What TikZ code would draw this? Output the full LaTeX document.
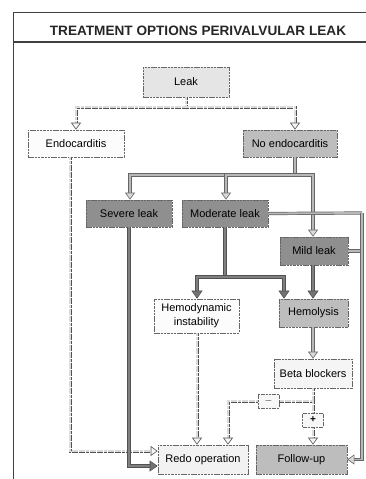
\documentclass[tikz,border=0pt]{standalone}
\usepackage{fontspec}
\setmainfont{Liberation Sans}
\usetikzlibrary{arrows.meta}
\definecolor{lgrey}{gray}{0.90}
\definecolor{mgrey}{gray}{0.74}
\definecolor{dgrey}{gray}{0.56}
\definecolor{edge}{gray}{0.40}
\definecolor{ltin}{gray}{0.86}
\begin{document}
\begin{tikzpicture}[x=1pt,y=-1pt,
  box/.style={draw=edge, line width=0.7pt, dash pattern=on 2.5pt off 0.8pt,
    minimum height=27pt, inner sep=1pt, font=\fontsize{11}{14}\selectfont, align=center},
  sbox/.style={draw=edge, line width=0.6pt, dash pattern=on 2pt off 0.7pt, fill=black!3,
    minimum width=21pt, minimum height=14pt, inner sep=0pt, font=\fontsize{10}{12}\selectfont\bfseries},
  ltplain/.style={draw=black!68, line width=0.75pt, double=ltin, double distance=1.5pt,
    dash pattern=on 3pt off 0.6pt},
  ltline/.style={ltplain,
      -{Triangle[fill=black!4, length=7pt, width=10pt, line width=0.6pt, sep=0pt]}},
  mdline/.style={draw=black!60, line width=0.7pt, double=black!28, double distance=1.8pt,
    -{Triangle[fill=black!15, length=7pt, width=10pt, line width=0.6pt]}},
  mdplain/.style={draw=black!60, line width=0.7pt, double=black!28, double distance=1.8pt},
  dkline/.style={draw=black!68, line width=0.8pt, double=black!50, double distance=2.2pt,
    -{Triangle[fill=black!55, color=black!68, length=8pt, width=11pt, line width=0.6pt]}},
  dkplain/.style={draw=black!68, line width=0.8pt, double=black!50, double distance=2.2pt},
  frame/.style={draw=black!75, line width=0.8pt}
]
\fill[white] (0,0) rectangle (366,479);
\useasboundingbox (0,0) rectangle (366,479);
% frame
\draw[frame] (13,12) -- (366,12);
\draw[frame, line width=1.4pt] (13,42) -- (366,42);
\draw[frame] (13,12) -- (13,479);
\node[font=\fontsize{13.6}{15}\selectfont\bfseries, text=black!85] (title) at (198,31) {TREATMENT OPTIONS PERIVALVULAR LEAK};

% nodes
\node[box, fill=lgrey, minimum width=86pt, minimum height=30pt] (leak) at (186,82) {Leak};
\node[box, fill=black!1, minimum width=96pt] (endo) at (76,143.5) {Endocarditis};
\node[box, fill=mgrey, minimum width=94pt] (noendo) at (290,143.5) {No endocarditis};
\node[box, fill=dgrey, minimum width=86pt] (severe) at (129,213.5) {Severe leak};
\node[box, fill=dgrey, minimum width=86pt] (moderate) at (225,213.5) {Moderate leak};
\node[box, fill=dgrey, minimum width=68pt, minimum height=28pt] (mild) at (314,251) {Mild leak};
\node[box, fill=black!1, minimum width=85pt, minimum height=34pt] (hemo) at (196.5,316) {Hemodynamic\\instability};
\node[box, fill=mgrey, minimum width=69pt, minimum height=28pt] (hemol) at (313.5,313) {Hemolysis};
\node[box, fill=black!4, minimum width=78pt, minimum height=29pt] (beta) at (313,373.5) {Beta blockers};
\node[box, fill=black!5, minimum width=90pt, minimum height=29pt] (redo) at (203,459.5) {Redo operation};
\node[box, fill=mgrey, minimum width=91pt, minimum height=29pt] (follow) at (301.5,459.5) {Follow-up};

% junction coordinates
\coordinate (j1) at (186,107);
\coordinate (j2) at (295,175);
\coordinate (j3) at (225,277);
\coordinate (j4) at (362,213);
\coordinate (j5) at (313,401);
\coordinate (mm) at (268.5,401);
\coordinate (pp) at (313,420);

% Leak -> Endocarditis / No endocarditis
\draw[ltline] (leak.south) -- (j1) -| (endo.north);
\draw[ltline] (j1) -| ([xshift=5pt]noendo.north);

% Endocarditis -> Redo
\draw[ltline] ([xshift=-6pt]endo.south) |- ([yshift=8.5pt]redo.west);

% No endocarditis -> leaks
\draw[mdplain] ([xshift=5pt]noendo.south) -- (j2);
\draw[mdline] (j2) -| ([xshift=1pt]severe.north);
\draw[mdline] (j2) -| ([xshift=1pt]moderate.north);
\draw[mdline] (j2) -| ([xshift=-1pt]mild.north);

% Severe -> Redo
\draw[dkline] (severe.south) |- ([yshift=-6.5pt]redo.west);

% Moderate -> Hemodynamic / Hemolysis
\draw[dkplain] (moderate.south) -- (j3);
\draw[dkline] (j3) -| ([xshift=0.5pt]hemo.north);
\draw[dkline] (j3) -| ([xshift=-29.5pt]hemol.north);

% Mild -> Hemolysis
\draw[dkline] ([xshift=-1pt]mild.south) -- ([xshift=-0.5pt]hemol.north);

% Moderate / Mild -> Follow-up
\draw[mdplain] (moderate.east) -- (j4);
\draw[mdplain] (mild.east) -- (mild.east -| j4);
\draw[mdline] (j4) |- (follow.east);

% Hemolysis -> Beta blockers
\draw[mdline] ([xshift=-0.5pt]hemol.south) -- (beta.north);

% Hemodynamic -> Redo
\draw[ltline] ([xshift=0.5pt]hemo.south) -- ([xshift=-6pt]redo.north);

% Beta blockers -> minus / plus
\draw[ltplain] (beta.south) -- (j5);
\draw[ltline] (j5) -- (mm) -| ([xshift=25pt]redo.north);
\draw[ltline] (j5) -- (pp) -- ([xshift=11.5pt]follow.north);
\node[sbox] (minus) at (mm) {$-$};
\node[sbox] (plus) at (pp) {+};
\end{tikzpicture}
\end{document}
